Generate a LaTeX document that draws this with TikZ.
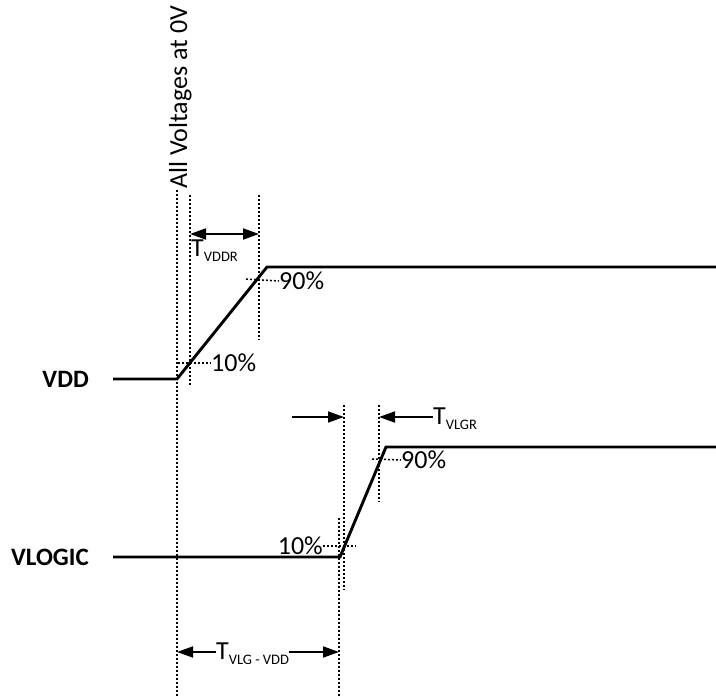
\documentclass[tikz,border=0pt]{standalone}
\usepackage{fontspec}
\setmainfont{Carlito}
\usetikzlibrary{arrows.meta}

\newcommand{\tsub}[1]{\raisebox{-5pt}{\fontsize{14.5}{15}\selectfont #1}}

\begin{document}
\begin{tikzpicture}[x=1pt, y=-1pt,
	every node/.style={font=\fontsize{26}{30}\selectfont, inner sep=0pt},
	signal/.style={line width=2.9pt},
	guide/.style={line width=1.5pt, dash pattern=on 2pt off 2pt},
	timing/.style={line width=1.8pt, -{Triangle[length=16pt,width=11pt]}},
	twoway/.style={line width=1.8pt, {Triangle[length=16pt,width=11pt]}-{Triangle[length=16pt,width=11pt]}},
	signame/.style={font=\fontsize{25}{30}\selectfont\bfseries, anchor=east},
	level/.style={anchor=west},]

\useasboundingbox (0,0) rectangle (716,696);

% Points of the waveforms
\coordinate (vdd0) at (113,379);
\coordinate (vddA) at (177,379);
\coordinate (vddB) at (267,267);
\coordinate (vdd1) at (716,267);
\coordinate (vlg0) at (113,557);
\coordinate (vlgA) at (340,557);
\coordinate (vlgB) at (386,447);
\coordinate (vlg1) at (716,447);

% Ends of the guide lines
\coordinate (g0top) at (177,190);
\coordinate (g0bot) at (177,696);
\coordinate (g10top) at (190,195);
\coordinate (g10bot) at (190,385);
\coordinate (g90top) at (259,195);
\coordinate (g90bot) at (259,340);
\coordinate (h10) at (178,363);
\coordinate (h90) at (246,279);
\coordinate (k0top) at (339,518);
\coordinate (k0bot) at (339,696);
\coordinate (k10top) at (344,405);
\coordinate (k10bot) at (344,590);
\coordinate (k90top) at (379,405);
\coordinate (k90bot) at (379,502);
\coordinate (j10) at (356,546);
\coordinate (j90) at (372,459);

% Create the nodes
\node[signame] (vdd) at (89,379) {VDD};
\node[signame] (vlogic) at (89,557) {VLOGIC};
\node[rotate=90, anchor=base west] (allzero) at (187,189) {All Voltages at 0V};
\node[level] (pa10) at (211,363) {10\%};
\node[level] (pa90) at (279,281) {90\%};
\node[anchor=east] (pb10) at (323,546) {10\%};
\node[level] (pb90) at (401,460) {90\%};
\node[anchor=base west] (tvddr) at (191,256) {T\tsub{VDDR}};
\node[anchor=base west] (tvlgr) at (433,424) {T\tsub{VLGR}};
\node[anchor=base west] (tvlgvdd) at (216,659) {T\tsub{VLG - VDD}};

% Waveforms
\draw[signal] (vdd0) -- (vddA) -- (vddB) -- (vdd1);
\draw[signal] (vlg0) -- (vlgA) -- (vlgB) -- (vlg1);

% Guides
\draw[guide] (g0top) -- (g0bot);
\draw[guide] (g10top) -- (g10bot);
\draw[guide] (g90top) -- (g90bot);
\draw[guide] (h10) -- (pa10.west);
\draw[guide] (h90) -- (pa90.west);
\draw[guide] (k0top) -- (k0bot);
\draw[guide] (k10top) -- (k10bot);
\draw[guide] (k90top) -- (k90bot);
\draw[guide] (pb10.east) -- (j10);
\draw[guide] (j90) -- (pb90.west);

% Timing arrows
\draw[twoway] (g10top |- 0,234) -- (g90top |- 0,234);
\draw[timing] (292,417) coordinate (ra) -- (k10top |- ra);
\draw[timing] (tvlgr.west |- 0,417) -- (k90top |- 0,417);
\draw[timing] (tvlgvdd.west |- 0,652) -- (g0top |- 0,652);
\draw[timing] (tvlgvdd.east |- 0,652) -- (k0top |- 0,652);

\end{tikzpicture}
\end{document}
